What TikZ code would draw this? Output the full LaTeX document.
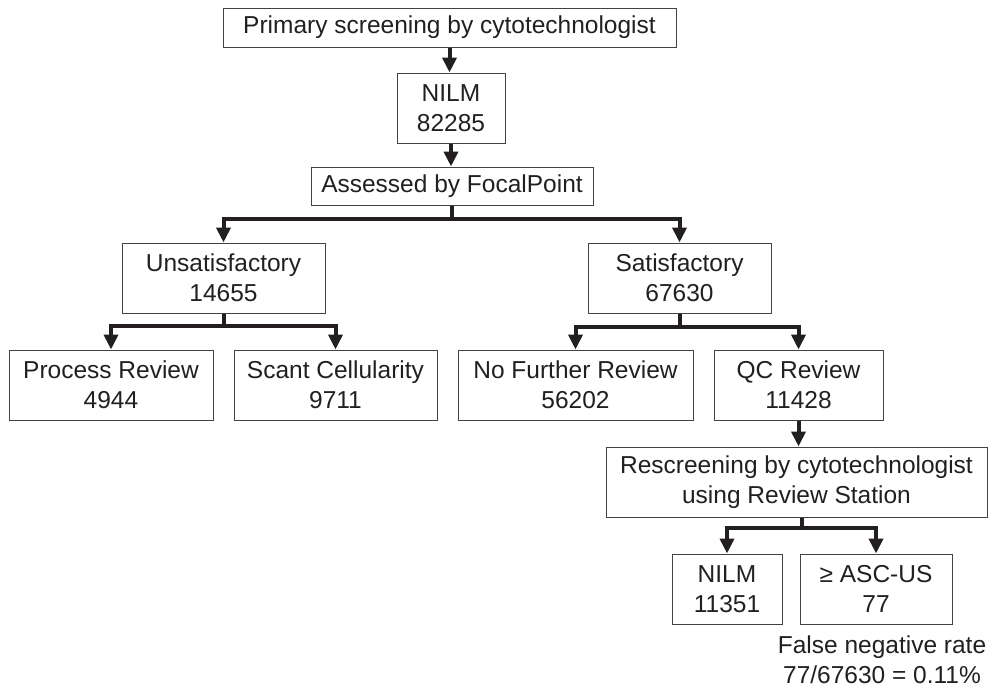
\documentclass[tikz,border=0pt]{standalone}
\usepackage{fontspec}
\setmainfont{Liberation Sans}
\usetikzlibrary{arrows.meta}
\definecolor{ink}{HTML}{231F20}

\begin{document}
\begin{tikzpicture}[x=0.5pt, y=-0.5pt,
  box/.style={shape=rectangle, draw=ink!85, line width=0.5pt, inner sep=0pt, minimum height=35pt, align=center, text=ink, font=\fontsize{12.25}{15}\selectfont},
  arr/.style={draw=ink, line width=2pt, -{Triangle[width=7pt, length=7.5pt]}},
  stem/.style={draw=ink, line width=2pt}]

\useasboundingbox (0,0) rectangle (988,686);

% top of the chart
\node[name=prim, box, minimum width=226.5pt, minimum height=19.5pt] at (449.5,27.5) {Primary screening by cytotechnologist};
\node[name=nilmA, box, minimum width=54pt] at (451,108) {NILM\\82285};
\node[name=assess, box, minimum width=141pt, minimum height=19pt] at (452,186) {Assessed by FocalPoint};

\draw[arr] (prim.south) -- (prim.south |- nilmA.north);
\draw[arr] (nilmA.south) -- (nilmA.south |- assess.north);

% first split
\node[name=unsat, box, minimum width=101.5pt] at (223.5,278) {Unsatisfactory\\14655};
\node[name=sat, box, minimum width=91.5pt] at (679.5,278) {Satisfactory\\67630};

\coordinate (splitA) at (452,219);
\draw[stem] (assess.south) -- (splitA);
\draw[arr] (splitA) -| (unsat.north);
\draw[arr] (splitA) -| (sat.north);

% second row
\node[name=proc, box, minimum width=102pt] at (111,385) {Process Review\\4944};
\node[name=scant, box, minimum width=101.5pt] at (335.5,385) {Scant Cellularity\\9711};
\node[name=nofur, box, minimum width=117.5pt] at (575.5,385) {No Further Review\\56202};
\node[name=qc, box, minimum width=84.5pt] at (798.5,385) {QC Review\\11428};

\coordinate (splitB) at ([yshift=-6pt]unsat.south);
\draw[stem] (unsat.south) -- (splitB);
\draw[arr] (splitB) -| (proc.north);
\draw[arr] (splitB) -| (scant.north);

\coordinate (splitC) at ([yshift=-6.5pt]sat.south);
\draw[stem] (sat.south) -- (splitC);
\draw[arr] (splitC) -| (nofur.north);
\draw[arr] (splitC) -| (qc.north);

% rescreening
\node[name=rescr, box, minimum width=190.5pt] at (796.5,482) {Rescreening by cytotechnologist\\using Review Station};
\draw[arr] (qc.south) -- (qc.south |- rescr.north);

\node[name=nilmB, box, minimum width=55pt] at (727,589) {NILM\\11351};
\node[name=asc, box, minimum width=76pt] at (876,589) {≥ ASC-US\\77};

\coordinate (splitD) at (802,528);
\draw[stem] (splitD |- rescr.south) -- (splitD);
\draw[arr] (splitD) -| (nilmB.north);
\draw[arr] (splitD) -| (asc.north);

\node[name=rate, align=center, inner sep=0pt, text=ink, font=\fontsize{12.25}{15}\selectfont] at (882,660) {False negative rate\\77/67630 = 0.11\%};

\end{tikzpicture}
\end{document}
